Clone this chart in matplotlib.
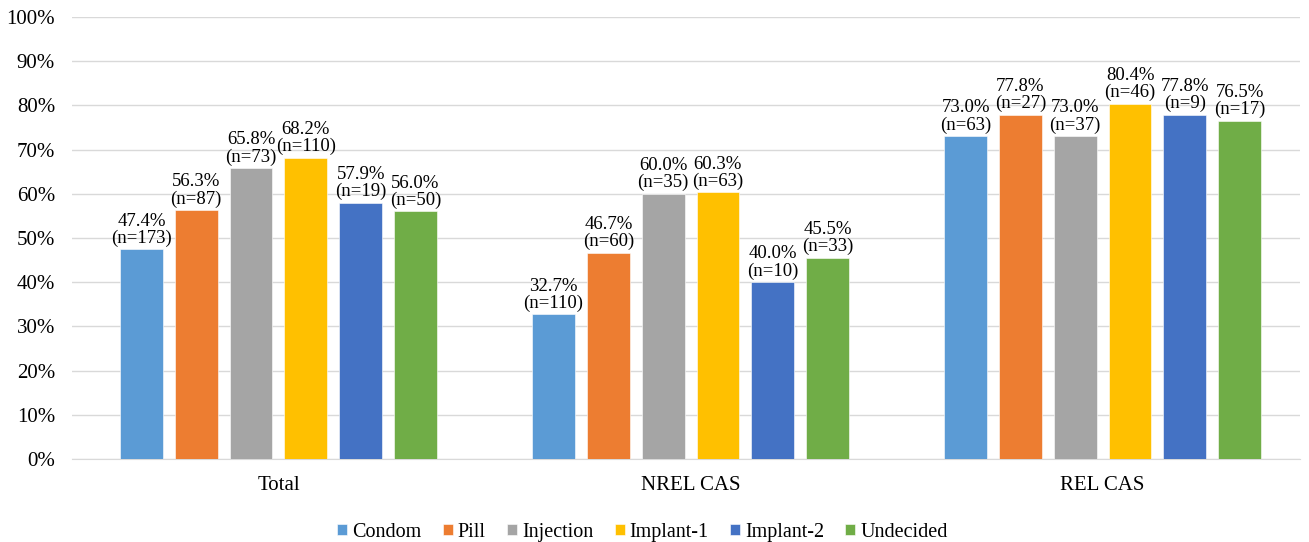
import matplotlib
matplotlib.use("Agg")
import matplotlib.pyplot as plt
import numpy as np

categories = ["Total", "NREL CAS", "REL CAS"]
series = ["Condom", "Pill", "Injection", "Implant-1", "Implant-2", "Undecided"]
colors = ["#5B9BD5", "#ED7D31", "#A5A5A5", "#FFC000", "#4472C4", "#70AD47"]
values = {
    "Condom":    [47.4, 32.7, 73.0],
    "Pill":      [56.3, 46.7, 77.8],
    "Injection": [65.8, 60.0, 73.0],
    "Implant-1": [68.2, 60.3, 80.4],
    "Implant-2": [57.9, 40.0, 77.8],
    "Undecided": [56.0, 45.5, 76.5],
}
counts = {
    "Condom":    [173, 110, 63],
    "Pill":      [87, 60, 27],
    "Injection": [73, 35, 37],
    "Implant-1": [110, 63, 46],
    "Implant-2": [19, 10, 9],
    "Undecided": [50, 33, 17],
}

plt.rcParams['font.family'] = ['Liberation Serif', 'DejaVu Serif']

fig = plt.figure(figsize=(13.09, 5.42), dpi=100)
ax = fig.add_axes([72/1309, 1-459/542, (1300-72)/1309, (459-17)/542])

x = np.arange(len(categories))
step = 0.133
width = 0.104
for i, s in enumerate(series):
    pos = x + (i - 2.5) * step
    ax.bar(pos, values[s], width, color=colors[i], label=s,
           edgecolor="white", linewidth=0.4, zorder=3)
    for xp, v, n in zip(pos, values[s], counts[s]):
        ax.text(xp, v + 0.6, f"{v:.1f}%\n(n={n})", ha="center", va="bottom",
                fontsize=13.5, linespacing=1.0, zorder=4)

ax.set_ylim(0, 100)
ax.set_xlim(-0.501, 2.479)
ax.set_yticks(np.arange(0, 101, 10))
ax.set_yticklabels([f"{t}%" for t in range(0, 101, 10)], fontsize=15)
ax.set_xticks(x)
ax.set_xticklabels(categories, fontsize=15)
ax.tick_params(axis="both", length=0)
ax.tick_params(axis="y", pad=12.2)
ax.tick_params(axis="x", pad=12.5)
ax.grid(axis="y", color="#D9D9D9", linewidth=1, zorder=0)
for sp in ["top", "right", "left"]:
    ax.spines[sp].set_visible(False)
ax.spines["bottom"].set_color("#D9D9D9")

ax.legend(loc="center", bbox_to_anchor=(0.4646, -0.166), ncol=6, frameon=False,
          fontsize=14.5, handlelength=0.5, handleheight=0.5, handletextpad=0.25,
          columnspacing=1.05)

fig.savefig("out.png", dpi=100)
